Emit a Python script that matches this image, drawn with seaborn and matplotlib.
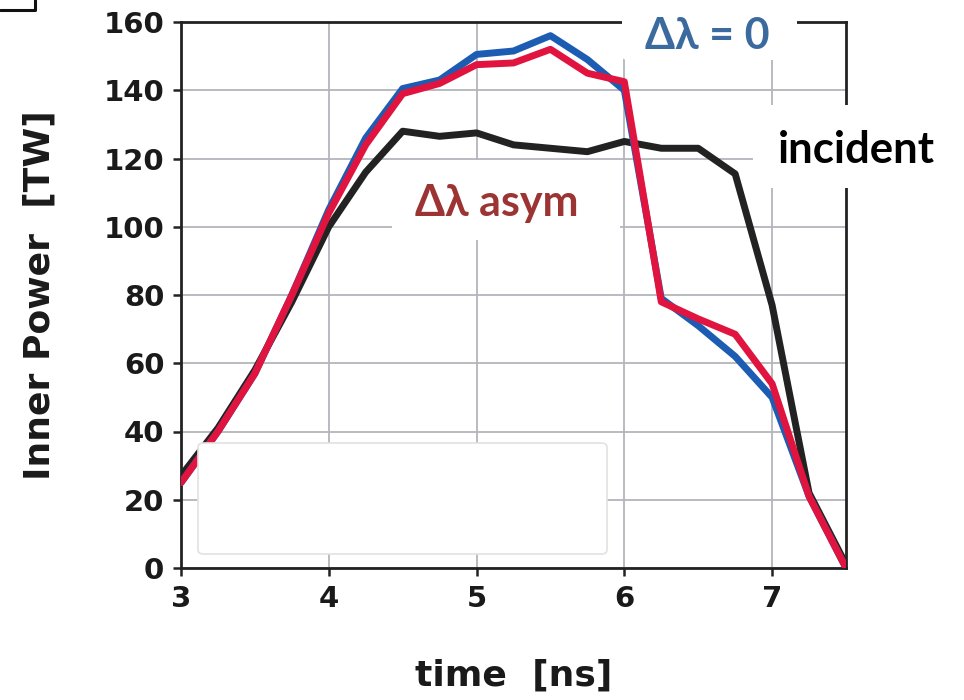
import matplotlib
matplotlib.use("Agg")
import matplotlib.pyplot as plt
from matplotlib.patches import FancyBboxPatch
from matplotlib.lines import Line2D
import numpy as np
import pandas as pd
import seaborn as sns

# time samples [ns]
time_ns = [3.0, 3.25, 3.5, 3.75, 4.0, 4.25, 4.5, 4.75, 5.0, 5.25,
           5.5, 5.75, 6.0, 6.25, 6.5, 6.75, 7.0, 7.25, 7.5]

# inner-cone power [TW]
incident = [27, 41, 58, 78, 100, 116, 128, 126.5, 127.5, 124,
            123, 122, 125, 123, 123, 115.5, 77, 22, 1]
dl_zero = [25, 40, 57, 80, 105, 126, 140.5, 143, 150.5, 151.5,
           156, 149, 140, 79, 71, 62, 50, 21, 0]
dl_asym = [25, 40, 57, 80, 104, 124, 139, 142, 147.5, 148,
           152, 145, 142.5, 78, 73, 68.5, 54, 21, 0]

series_names = ["incident", "dl_zero", "dl_asym"]
colors = {"incident": "#222222", "dl_zero": "#1c5db3", "dl_asym": "#e0143f"}

x_ticks = [3, 4, 5, 6, 7]
y_ticks = [0, 20, 40, 60, 80, 100, 120, 140, 160]

df = pd.concat([
    pd.DataFrame({"time": time_ns, "power": vals, "series": name})
    for name, vals in zip(series_names, [incident, dl_zero, dl_asym])
], ignore_index=True)

sns.set_theme(style="whitegrid")
plt.rcParams["font.family"] = ["DejaVu Sans"]

fig = plt.figure(figsize=(9.64, 7.0), dpi=100)
W, H = 964, 700
ax = fig.add_axes([181 / W, 1 - 568 / H, (846 - 181) / W, (568 - 22) / H])

sns.lineplot(data=df, x="time", y="power", hue="series",
             hue_order=series_names, palette=colors, linewidth=5.0,
             legend=False, ax=ax, zorder=5)

ax.set_xlim(3, 7.5)
ax.set_ylim(0, 160)
ax.set_xticks(x_ticks)
ax.set_yticks(y_ticks)
ax.grid(True, color="#b4b4bc", linewidth=1.3)
ax.set_facecolor("white")
for s in ax.spines.values():
    s.set_color("#222222")
    s.set_linewidth(2.0)
ax.tick_params(axis="both", which="both", direction="out", length=6,
               width=1.8, color="#222222", labelsize=21, pad=6,
               left=True, bottom=True)
for lab in ax.get_xticklabels() + ax.get_yticklabels():
    lab.set_fontweight("bold")
    lab.set_color("#1a1a1a")

ax.set_xlabel("time  [ns]", fontsize=26, fontweight="semibold",
              color="#1a1a1a", labelpad=33)
ax.set_ylabel("Inner Power  [TW]", fontsize=26, fontweight="semibold",
              color="#1a1a1a", labelpad=34)

# white blocks behind the curve labels
def blank(x0, y0, x1, y1, edge="none", z=3):
    p = FancyBboxPatch((x0 / W, 1 - y1 / H), (x1 - x0) / W, (y1 - y0) / H,
                       boxstyle="round,pad=0,rounding_size=0.006",
                       transform=fig.transFigure, facecolor="white",
                       edgecolor=edge, linewidth=1.2, zorder=z)
    fig.add_artist(p)

blank(622, 0, 797, 60)
blank(753, 105, 964, 188)
blank(392, 160, 620, 240)
blank(198, 443, 607, 554, edge="#e2e2e2", z=6)

lab_font = ["Lato", "DejaVu Serif"]
fig.text(707 / W, 1 - 36 / H, "Δλ = 0", ha="center", va="center",
         fontsize=31, fontweight="bold", color="#3b6a9f", family=lab_font,
         zorder=10)
fig.text(856 / W, 1 - 150 / H, "incident", ha="center", va="center",
         fontsize=31.5, fontweight="bold", color="#000000", family=lab_font,
         zorder=10)
fig.text(497 / W, 1 - 203 / H, "Δλ asym", ha="center", va="center",
         fontsize=31, fontweight="bold", color="#9c3434", family=lab_font,
         zorder=10)

# corner mark at the top left
fig.add_artist(Line2D([0, 35 / W, 35 / W], [1 - 10 / H, 1 - 10 / H, 1],
                      transform=fig.transFigure, color="#111111",
                      linewidth=2.2))

fig.savefig("out.png", dpi=100, facecolor="white")
